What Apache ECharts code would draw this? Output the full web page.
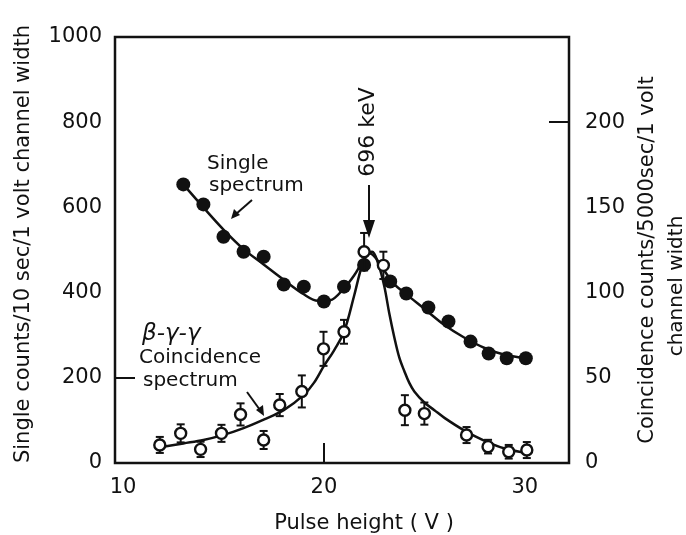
<!DOCTYPE html>
<html>
<head>
<meta charset="utf-8">
<script src="https://cdn.jsdelivr.net/npm/echarts@6/dist/echarts.min.js"></script>
<style>html,body{margin:0;padding:0;background:#fff;}#c{width:686px;height:535px;}</style>
</head>
<body>
<div id="c"></div>
<script>
// ---- data ----
const xTickLabels = [10, 20, 30];
const leftTickLabels = [0, 200, 400, 600, 800, 1000];
const rightTickLabels = [0, 50, 100, 150, 200];

// Single spectrum points (left axis)
const singleX = [13, 14, 15, 16, 17, 18, 19, 20, 21, 22, 23.3, 24.1, 25.2, 26.2, 27.3, 28.2, 29.1, 30.05];
const singleY = [654, 607, 531, 496, 484, 419, 414, 379, 414, 465, 426, 398, 365, 332, 285, 257, 246, 246];
// Single spectrum fitted curve
const singleCurveX = [13, 14, 15, 16, 17, 18, 19, 19.7, 20.3, 21, 21.5, 22, 22.3, 22.6, 23, 23.5, 24, 25, 26, 27, 28, 29, 30, 30.3];
const singleCurveY = [654, 600, 548, 502, 466, 430, 396, 381, 382, 410, 440, 478, 492, 480, 452, 420, 400, 362, 324, 294, 270, 254, 246, 244];

// Coincidence spectrum points (right axis) with errors
const coinX = [11.83, 12.87, 13.86, 14.9, 15.85, 17.0, 17.8, 18.9, 19.98, 21.0, 22.0, 22.96, 24.03, 25.0, 27.1, 28.17, 29.2, 30.1];
const coinY = [10.6, 17.4, 8, 17.4, 28.5, 13.5, 34, 42, 67, 77, 124, 116, 31, 29, 16.4, 9.6, 6.6, 7.6];
const coinErr = [4.7, 5.3, 4.5, 5, 6.5, 5.3, 6.5, 9.4, 10, 7, 11, 8, 8.8, 6.5, 4.7, 4, 4, 4.7];
// Coincidence fitted curve
const coinCurveX = [12, 13, 14, 15, 16, 17, 18, 19, 19.5, 20, 20.5, 21, 21.5, 21.8, 22.1, 22.4, 22.7, 23.0, 23.25, 23.5, 23.75, 24, 24.25, 24.5, 25, 25.5, 26, 27, 28, 29, 30, 30.3];
const coinCurveY = [9.5, 11.5, 13.5, 16.5, 20.5, 25.5, 31, 40, 47, 57, 66, 77, 98, 112, 123, 124, 117, 104, 88, 74, 62, 54, 47, 42, 35.5, 31, 26.5, 19, 13, 8.5, 6, 5.5];

const zip = (a, b) => a.map((v, i) => [v, b[i]]);
const INK = '#111';
const FONT = 'DejaVu Sans';
const f = (size, extra) => (extra ? extra + ' ' : '') + size + 'px "' + FONT + '"';

const chart = echarts.init(document.getElementById('c'), null, {renderer: 'canvas'});
const labelStyle = {color: INK, fontFamily: FONT, fontSize: 21, formatter: v => String(v)};
const option = {
  animation: false,
  backgroundColor: '#fff',
  grid: {left: 115, right: 117, top: 37, bottom: 72, show: true, borderColor: INK, borderWidth: 2.5, backgroundColor: 'transparent'},
  xAxis: {
    type: 'value', min: 9.6, max: 32.2,
    axisLine: {show: false},
    splitLine: {show: false},
    axisTick: {show: true, inside: true, length: 20, customValues: [20], lineStyle: {color: INK, width: 2}},
    axisLabel: Object.assign({customValues: xTickLabels, margin: 14}, labelStyle)
  },
  yAxis: [{
    type: 'value', min: 0, max: 1000, interval: 200,
    axisLine: {show: false},
    splitLine: {show: false},
    axisTick: {show: true, inside: true, length: 20, customValues: [200], lineStyle: {color: INK, width: 2}},
    axisLabel: Object.assign({customValues: leftTickLabels, margin: 13}, labelStyle)
  }, {
    type: 'value', min: 0, max: 250, interval: 50, position: 'right',
    axisLine: {show: false},
    splitLine: {show: false},
    axisTick: {show: true, inside: true, length: 20, customValues: [200], lineStyle: {color: INK, width: 2}},
    axisLabel: Object.assign({customValues: rightTickLabels, margin: 16}, labelStyle)
  }],
  series: [{
    type: 'line', yAxisIndex: 0, data: zip(singleCurveX, singleCurveY), smooth: 0.35,
    showSymbol: false, lineStyle: {color: INK, width: 2.5}, z: 2
  }, {
    type: 'line', yAxisIndex: 1, data: zip(coinCurveX, coinCurveY), smooth: 0.35,
    showSymbol: false, lineStyle: {color: INK, width: 2.5}, z: 2
  }, {
    type: 'scatter', yAxisIndex: 0, data: zip(singleX, singleY), symbolSize: 14,
    itemStyle: {color: INK, opacity: 1}, z: 3
  }, {
    type: 'custom', yAxisIndex: 1,
    data: coinX.map((x, i) => [x, coinY[i] - coinErr[i], coinY[i] + coinErr[i]]),
    renderItem: function (params, api) {
      const lo = api.coord([api.value(0), api.value(1)]);
      const hi = api.coord([api.value(0), api.value(2)]);
      const w = 4;
      const st = {stroke: INK, lineWidth: 2};
      return {type: 'group', children: [
        {type: 'line', shape: {x1: lo[0], y1: lo[1], x2: hi[0], y2: hi[1]}, style: st},
        {type: 'line', shape: {x1: lo[0] - w, y1: lo[1], x2: lo[0] + w, y2: lo[1]}, style: st},
        {type: 'line', shape: {x1: hi[0] - w, y1: hi[1], x2: hi[0] + w, y2: hi[1]}, style: st}
      ]};
    },
    z: 4
  }, {
    type: 'scatter', yAxisIndex: 1, data: zip(coinX, coinY), symbolSize: 11,
    itemStyle: {color: '#fff', borderColor: INK, borderWidth: 2.4, opacity: 1}, z: 5
  }],
  graphic: [
    {type: 'text', x: 24, y: 244, rotation: Math.PI / 2, style: {text: 'Single counts/10 sec/1 volt channel width', fill: INK, font: f(21), textAlign: 'center', textVerticalAlign: 'middle'}},
    {type: 'text', x: 648, y: 260, rotation: Math.PI / 2, style: {text: 'Coincidence counts/5000sec/1 volt', fill: INK, font: f(21), textAlign: 'center', textVerticalAlign: 'middle'}},
    {type: 'text', x: 677, y: 286, rotation: Math.PI / 2, style: {text: 'channel width', fill: INK, font: f(20), textAlign: 'center', textVerticalAlign: 'middle'}},
    {type: 'text', x: 364, y: 524, style: {text: 'Pulse height ( V )', fill: INK, font: f(21), textAlign: 'center', textVerticalAlign: 'middle'}},
    {type: 'text', x: 368, y: 132, rotation: Math.PI / 2, style: {text: '696 keV', fill: INK, font: f(22), textAlign: 'center', textVerticalAlign: 'middle'}},
    {type: 'line', shape: {x1: 369, y1: 185, x2: 369, y2: 228}, style: {stroke: INK, lineWidth: 2}},
    {type: 'polygon', shape: {points: [[363, 220], [375, 220], [369, 238]]}, style: {fill: INK}},
    {type: 'text', x: 207, y: 164, style: {text: 'Single', fill: INK, font: f(20), textAlign: 'left', textVerticalAlign: 'middle'}},
    {type: 'text', x: 209, y: 186, style: {text: 'spectrum', fill: INK, font: f(20), textAlign: 'left', textVerticalAlign: 'middle'}},
    {type: 'line', shape: {x1: 252, y1: 200, x2: 236, y2: 214}, style: {stroke: INK, lineWidth: 2}},
    {type: 'polygon', shape: {points: [[231, 219], [234, 209], [240, 215]]}, style: {fill: INK}},
    {type: 'text', x: 142, y: 334, style: {text: 'β-γ-γ', fill: INK, font: f(23, 'italic'), textAlign: 'left', textVerticalAlign: 'middle'}},
    {type: 'text', x: 139, y: 358, style: {text: 'Coincidence', fill: INK, font: f(20), textAlign: 'left', textVerticalAlign: 'middle'}},
    {type: 'text', x: 143, y: 381, style: {text: 'spectrum', fill: INK, font: f(20), textAlign: 'left', textVerticalAlign: 'middle'}},
    {type: 'line', shape: {x1: 247, y1: 392, x2: 260, y2: 410}, style: {stroke: INK, lineWidth: 2}},
    {type: 'polygon', shape: {points: [[264, 416], [256, 410], [263, 405]]}, style: {fill: INK}}
  ]
};
chart.setOption(option);
</script>
</body>
</html>
